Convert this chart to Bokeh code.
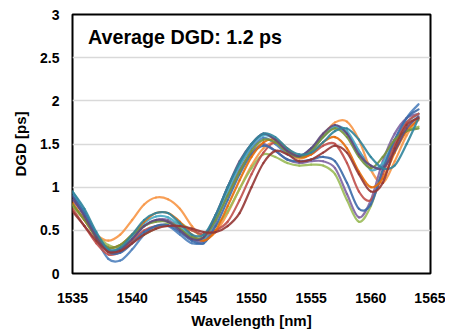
from bokeh.plotting import figure
from bokeh.models import Range1d, Label, FixedTicker
from bokeh.embed import file_html
from bokeh.resources import INLINE

wavelength = list(range(1535, 1565))

series_blue = [0.92, 0.70, 0.40, 0.17, 0.15, 0.28, 0.45, 0.55, 0.55, 0.45, 0.35, 0.38, 0.65, 1.00, 1.25, 1.45, 1.57, 1.50, 1.38, 1.35, 1.45, 1.60, 1.70, 1.62, 1.42, 1.25, 1.25, 1.50, 1.80, 1.96]
series_orange = [0.80, 0.62, 0.45, 0.38, 0.45, 0.62, 0.80, 0.88, 0.86, 0.75, 0.55, 0.40, 0.48, 0.70, 0.98, 1.25, 1.45, 1.52, 1.42, 1.33, 1.40, 1.60, 1.75, 1.76, 1.55, 1.20, 1.05, 1.30, 1.60, 1.80]
series_green = [0.78, 0.62, 0.45, 0.33, 0.30, 0.38, 0.45, 0.52, 0.58, 0.58, 0.50, 0.45, 0.55, 0.72, 0.98, 1.22, 1.38, 1.35, 1.28, 1.25, 1.26, 1.25, 1.15, 0.85, 0.60, 0.78, 1.20, 1.50, 1.65, 1.70]
series_purple = [0.85, 0.68, 0.45, 0.28, 0.28, 0.40, 0.55, 0.62, 0.62, 0.52, 0.40, 0.38, 0.60, 0.92, 1.20, 1.40, 1.50, 1.42, 1.32, 1.28, 1.30, 1.30, 1.22, 0.92, 0.65, 0.85, 1.30, 1.62, 1.80, 1.85]
series_aqua = [0.95, 0.72, 0.45, 0.25, 0.28, 0.42, 0.58, 0.66, 0.65, 0.55, 0.42, 0.40, 0.62, 0.95, 1.25, 1.48, 1.60, 1.55, 1.42, 1.36, 1.42, 1.58, 1.70, 1.65, 1.42, 1.20, 1.28, 1.55, 1.75, 1.85]
series_red = [0.75, 0.55, 0.35, 0.22, 0.25, 0.38, 0.50, 0.55, 0.55, 0.55, 0.50, 0.45, 0.50, 0.60, 0.85, 1.15, 1.40, 1.52, 1.42, 1.35, 1.38, 1.48, 1.50, 1.28, 0.95, 0.85, 1.15, 1.50, 1.75, 1.85]
series_blue2 = [0.90, 0.70, 0.45, 0.25, 0.24, 0.35, 0.48, 0.55, 0.56, 0.48, 0.38, 0.35, 0.55, 0.85, 1.15, 1.38, 1.48, 1.42, 1.32, 1.30, 1.32, 1.35, 1.30, 1.05, 0.75, 0.80, 1.20, 1.55, 1.80, 1.90]
series_orange2 = [0.82, 0.62, 0.42, 0.30, 0.33, 0.45, 0.60, 0.70, 0.70, 0.60, 0.45, 0.38, 0.50, 0.78, 1.08, 1.35, 1.52, 1.55, 1.45, 1.35, 1.38, 1.52, 1.58, 1.45, 1.18, 1.00, 1.10, 1.40, 1.65, 1.78]
series_green2 = [0.80, 0.62, 0.42, 0.30, 0.33, 0.45, 0.55, 0.60, 0.60, 0.52, 0.42, 0.42, 0.62, 0.90, 1.18, 1.42, 1.55, 1.52, 1.40, 1.35, 1.42, 1.58, 1.68, 1.58, 1.35, 1.22, 1.35, 1.55, 1.65, 1.68]
series_purple2 = [0.88, 0.66, 0.42, 0.26, 0.28, 0.40, 0.55, 0.62, 0.60, 0.50, 0.40, 0.42, 0.68, 1.00, 1.30, 1.50, 1.62, 1.55, 1.42, 1.36, 1.45, 1.62, 1.72, 1.62, 1.38, 1.25, 1.22, 1.42, 1.68, 1.82]
series_teal2 = [0.95, 0.75, 0.48, 0.28, 0.30, 0.45, 0.62, 0.70, 0.70, 0.58, 0.45, 0.45, 0.68, 1.00, 1.28, 1.50, 1.62, 1.58, 1.45, 1.38, 1.40, 1.52, 1.65, 1.68, 1.55, 1.35, 1.22, 1.25, 1.50, 1.80]
series_red2 = [0.72, 0.55, 0.38, 0.25, 0.26, 0.35, 0.45, 0.52, 0.55, 0.55, 0.52, 0.48, 0.48, 0.55, 0.70, 1.00, 1.28, 1.42, 1.38, 1.30, 1.32, 1.40, 1.48, 1.40, 1.15, 0.95, 1.05, 1.45, 1.72, 1.80]

all_series = [series_blue, series_orange, series_green, series_purple, series_aqua, series_red,
              series_blue2, series_orange2, series_green2, series_purple2, series_teal2, series_red2]
colors = ["#4F81BD", "#F79646", "#9BBB59", "#8064A2", "#4BACC6", "#C0504D",
          "#3C6AA8", "#E46C0A", "#77933C", "#604A7B", "#31859C", "#953735"]

x_ticks = [1535, 1540, 1545, 1550, 1555, 1560, 1565]
y_ticks = [0, 0.5, 1, 1.5, 2, 2.5, 3]
y_tick_labels = {0: "0", 0.5: "0.5", 1: "1", 1.5: "1.5", 2: "2", 2.5: "2.5", 3: "3"}
annotation_text = "Average DGD: 1.2 ps"

FONT = "Liberation Sans"

p = figure(width=445, height=334, output_backend="svg", toolbar_location=None,
           x_range=Range1d(1535, 1565), y_range=Range1d(0, 3),
           min_border_left=72, min_border_right=15, min_border_top=14, min_border_bottom=61)

p.background_fill_color = "white"
p.border_fill_color = "white"
p.outline_line_color = "black"
p.outline_line_width = 2

p.xgrid.grid_line_color = None
p.ygrid.grid_line_color = "#D9D9D9"
p.ygrid.grid_line_width = 1.5

for ax in (p.xaxis[0], p.yaxis[0]):
    ax.axis_line_color = None
    ax.major_tick_line_color = None
    ax.minor_tick_line_color = None
    ax.major_tick_out = 0
    ax.major_tick_in = 0
    ax.minor_tick_out = 0
    ax.major_label_text_font = FONT
    ax.major_label_text_font_style = "bold"
    ax.major_label_text_font_size = "14px"
    ax.major_label_text_color = "black"
    ax.axis_label_text_font = FONT
    ax.axis_label_text_font_style = "bold"
    ax.axis_label_text_font_size = "15px"
    ax.axis_label_text_color = "black"

p.xaxis.ticker = FixedTicker(ticks=x_ticks)
p.yaxis.ticker = FixedTicker(ticks=y_ticks)
p.yaxis.major_label_overrides = y_tick_labels
p.xaxis.axis_label = "Wavelength [nm]"
p.yaxis.axis_label = "DGD [ps]"
p.xaxis.major_label_standoff = 19
p.yaxis.major_label_standoff = 13
p.xaxis.axis_label_standoff = 6
p.yaxis.axis_label_standoff = 8


def smooth_segments(xs, ys):
    """Smoothed-line rendering (as in spreadsheet 'smoothed line' charts):
    Bezier control points derived from neighbouring data points."""
    n = len(xs)
    out = {k: [] for k in ("x0", "y0", "x1", "y1", "cx0", "cy0", "cx1", "cy1")}
    for i in range(n - 1):
        xp, yp = (xs[i - 1], ys[i - 1]) if i > 0 else (xs[i], ys[i])
        xn, yn = (xs[i + 2], ys[i + 2]) if i + 2 < n else (xs[i + 1], ys[i + 1])
        out["x0"].append(xs[i]); out["y0"].append(ys[i])
        out["x1"].append(xs[i + 1]); out["y1"].append(ys[i + 1])
        out["cx0"].append(xs[i] + (xs[i + 1] - xp) / 6.0)
        out["cy0"].append(ys[i] + (ys[i + 1] - yp) / 6.0)
        out["cx1"].append(xs[i + 1] - (xn - xs[i]) / 6.0)
        out["cy1"].append(ys[i + 1] - (yn - ys[i]) / 6.0)
    return out


for ys, c in zip(all_series, colors):
    seg = smooth_segments(wavelength, ys)
    p.bezier(x0=seg["x0"], y0=seg["y0"], x1=seg["x1"], y1=seg["y1"],
             cx0=seg["cx0"], cy0=seg["cy0"], cx1=seg["cx1"], cy1=seg["cy1"],
             line_color=c, line_width=2.2, line_alpha=0.9, line_cap="round")

p.add_layout(Label(x=1536.3, y=2.74, text=annotation_text, text_font=FONT,
                   text_font_style="bold", text_font_size="19.7px", text_color="black",
                   text_baseline="alphabetic"))

open("out.html", "w").write(file_html(p, INLINE))
